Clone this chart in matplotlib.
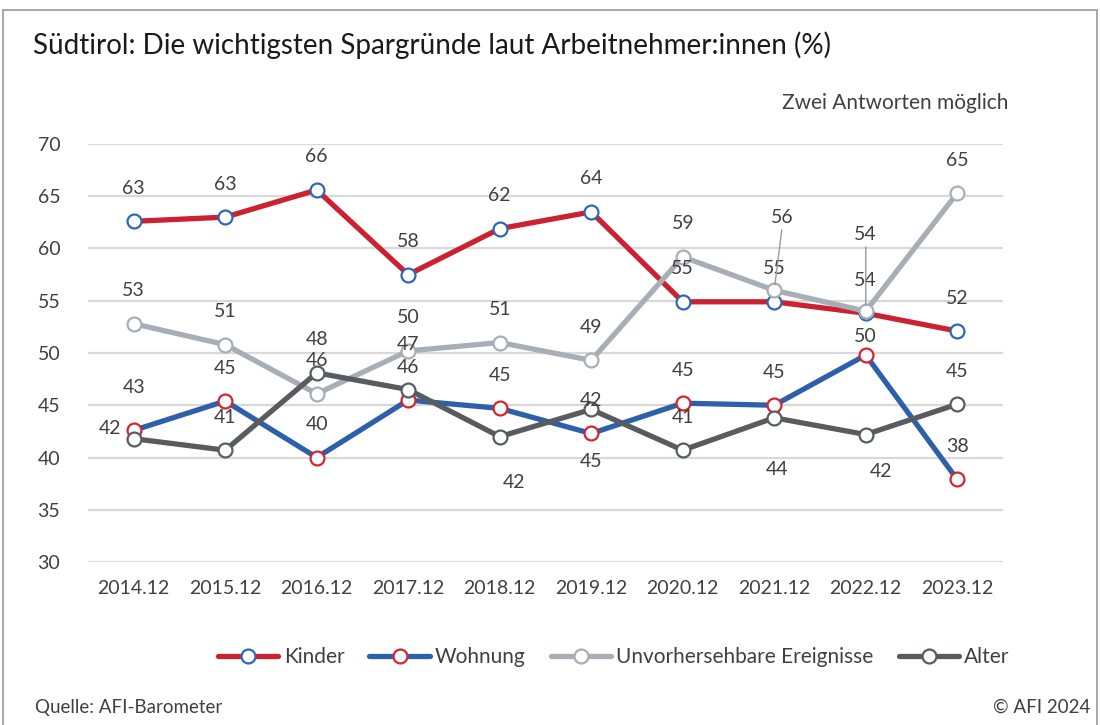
import matplotlib.pyplot as plt
from matplotlib.patches import Rectangle

plt.rcParams['font.family'] = ['Lato', 'DejaVu Sans']

years = ['2014.12', '2015.12', '2016.12', '2017.12', '2018.12',
         '2019.12', '2020.12', '2021.12', '2022.12', '2023.12']

kinder = [62.6, 63.0, 65.6, 57.5, 61.9, 63.5, 54.9, 54.9, 53.8, 52.1]
wohnung = [42.6, 45.4, 40.0, 45.5, 44.7, 42.3, 45.2, 45.0, 49.8, 37.9]
unvorh = [52.8, 50.8, 46.1, 50.2, 51.0, 49.3, 59.2, 56.0, 54.0, 65.3]
alter = [41.8, 40.7, 48.1, 46.5, 42.0, 44.6, 40.7, 43.8, 42.2, 45.1]

kinder_lbl = [63, 63, 66, 58, 62, 64, 55, 55, 54, 52]
wohnung_lbl = [43, 45, 40, 46, 45, 42, 45, 45, 50, 38]
unvorh_lbl = [53, 51, 46, 50, 51, 49, 59, 56, 54, 65]
alter_lbl = [42, 41, 48, 47, 42, 45, 41, 44, 42, 45]

# label offsets in pixels (dx, dy up)
d = (0, 33)
kinder_off = [d] * 10
wohnung_off = [(0, 43), d, d, d, d, d, d, d, (0, 19), d]
unvorh_off = [d, d, d, d, d, d, d, (8, 73), (0, 77), d]
alter_off = [(-24, 10), d, d, (0, 45), (14, -46), (0, -52), d, (3, -52), (15, -37), d]
leader = {'unvorh': [7, 8]}

fig = plt.figure(figsize=(11, 7.25), dpi=100)
ax = fig.add_axes([0.08, 0.2248, 0.8318, 0.5766])

x = list(range(len(years)))
series = [
    ('Kinder', kinder, kinder_lbl, kinder_off, '#cc2131', '#2f66b8'),
    ('Wohnung', wohnung, wohnung_lbl, wohnung_off, '#2d5fab', '#d4252f'),
    ('Unvorhersehbare Ereignisse', unvorh, unvorh_lbl, unvorh_off, '#a7aeb5', '#a7aeb5'),
    ('Alter', alter, alter_lbl, alter_off, '#585c60', '#585c60'),
]

for name, vals, lbls, offs, lc, mc in series:
    ax.plot(x, vals, color=lc, lw=3.8, marker='o', markersize=10,
            markerfacecolor='white', markeredgecolor=mc, markeredgewidth=1.6,
            label=name, solid_capstyle='round')
    for i, (v, t, o) in enumerate(zip(vals, lbls, offs)):
        kw = dict(xytext=(o[0] * 0.72, o[1] * 0.72), textcoords='offset points',
                  ha='center', va='center', fontsize=14, color='#404040')
        if name.startswith('Unvor') and i in leader['unvorh']:
            kw['arrowprops'] = dict(arrowstyle='-', color='#9a9a9a', lw=1,
                                    shrinkA=1, shrinkB=4, relpos=(0.5, 0))
        ax.annotate(str(t), (i, v), **kw)

ax.set_xlim(-0.5, 9.5)
ax.set_ylim(30, 70)
ax.set_yticks(range(30, 71, 5))
ax.set_xticks(x)
ax.set_xticklabels(years)
ax.grid(axis='y', color='#d9d9d9', lw=1.6)
ax.set_axisbelow(True)
for s in ax.spines.values():
    s.set_visible(False)
ax.tick_params(length=0, labelsize=14, colors='#404040')
ax.tick_params(axis='y', pad=20)
ax.tick_params(axis='x', pad=13)

fig.legend(loc='center', bbox_to_anchor=(0.558, 1 - 657 / 725), ncol=4,
           frameon=False, handlelength=2.9, handletextpad=0.25,
           columnspacing=1.2, fontsize=15, labelcolor='#404040')

fig.text(0.03, 1 - 45 / 725, 'Südtirol: Die wichtigsten Spargründe laut Arbeitnehmer:innen (%)',
         fontsize=20, color='#1a1a1a', va='center', ha='left')
fig.text(1008 / 1100, 1 - 103 / 725, 'Zwei Antworten möglich',
         fontsize=15, color='#404040', va='center', ha='right')
fig.text(35 / 1100, 1 - 707 / 725, 'Quelle: AFI-Barometer',
         fontsize=13.5, color='#404040', va='center', ha='left')
fig.text(1090 / 1100, 1 - 707 / 725, '© AFI 2024',
         fontsize=13.5, color='#404040', va='center', ha='right')

fig.patches.append(Rectangle((0.003, -0.01), 0.994, 0.996, transform=fig.transFigure,
                             fill=False, edgecolor='#9a9a9a', lw=1.2))

fig.savefig('out.png', dpi=100)
